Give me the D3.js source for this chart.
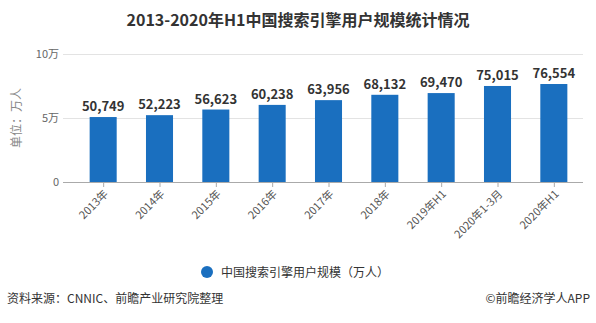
<!DOCTYPE html>
<html>
<head>
<meta charset="utf-8">
<script src="https://cdn.jsdelivr.net/npm/d3@7/dist/d3.min.js"></script>
<style>
  html, body { margin: 0; padding: 0; background: #fff; }
  svg { display: block; font-family: "Noto Sans CJK SC", "Noto Sans", sans-serif; }
</style>
</head>
<body>
<svg id="chart" width="596" height="323"></svg>
<script>
// Search engine users in China, unit: 10k people
const categories = ["2013年", "2014年", "2015年", "2016年", "2017年", "2018年", "2019年H1", "2020年1-3月", "2020年H1"];
const users = [50749, 52223, 56623, 60238, 63956, 68132, 69470, 75015, 76554];
const yTicks = [0, 50000, 100000];
const yTickLabels = ["0", "5万", "10万"];

const svg = d3.select("#chart");
const W = 596, H = 323;
const barColor = "#1a6fbf";

// Title
svg.append("text")
  .attr("x", W / 2).attr("y", 26)
  .attr("text-anchor", "middle")
  .attr("font-size", 16).attr("font-weight", "bold")
  .attr("fill", "#333")
  .text("2013-2020年H1中国搜索引擎用户规模统计情况");

const gridLeft = 63, gridRight = 583;
const x = d3.scaleBand().domain(categories).range([75, 582]).paddingInner(0.52).paddingOuter(0.26);
const y = d3.scaleLinear().domain([0, 100000]).range([182, 54]);

// Horizontal grid lines
svg.append("g").selectAll("line").data(yTicks.filter(d => d > 0)).join("line")
  .attr("x1", gridLeft).attr("x2", gridRight)
  .attr("y1", d => y(d) + 0.5).attr("y2", d => y(d) + 0.5)
  .attr("stroke", "#e3e3e3").attr("stroke-width", 1);

// Y axis labels
svg.append("g").selectAll("text").data(yTicks).join("text")
  .attr("x", 59).attr("y", d => y(d) + 4)
  .attr("text-anchor", "end")
  .attr("font-size", 11).attr("fill", "#666")
  .text((d, i) => yTickLabels[i]);

// Y axis title
svg.append("text")
  .attr("transform", "translate(21,118) rotate(-90)")
  .attr("text-anchor", "middle")
  .attr("font-size", 12).attr("fill", "#888")
  .text("单位：万人");

// Bars
svg.append("g").selectAll("rect").data(users).join("rect")
  .attr("x", (d, i) => x(categories[i]))
  .attr("y", d => y(d))
  .attr("width", x.bandwidth())
  .attr("height", d => y(0) - y(d))
  .attr("fill", barColor);

// Value labels
svg.append("g").selectAll("text").data(users).join("text")
  .attr("x", (d, i) => x(categories[i]) + x.bandwidth() / 2)
  .attr("y", d => y(d) - 6)
  .attr("text-anchor", "middle")
  .attr("font-size", 13).attr("font-weight", "bold")
  .attr("fill", "#333")
  .text(d => d3.format(",")(d));

// X axis
const xAxis = svg.append("g").attr("transform", `translate(0,${y(0)})`);
xAxis.append("line")
  .attr("x1", gridLeft).attr("x2", gridRight)
  .attr("y1", 0.5).attr("y2", 0.5)
  .attr("stroke", "#aaa");
xAxis.selectAll(".tick").data(categories).join("line")
  .attr("x1", d => x(d) + x.bandwidth() / 2 + 0.5)
  .attr("x2", d => x(d) + x.bandwidth() / 2 + 0.5)
  .attr("y1", 0.5).attr("y2", 5)
  .attr("stroke", "#aaa");
xAxis.selectAll("text").data(categories).join("text")
  .attr("transform", d => `translate(${x(d) + x.bandwidth() / 2 + 3},${10}) rotate(-45)`)
  .attr("text-anchor", "end")
  .attr("dy", "0.35em")
  .attr("font-size", 11).attr("fill", "#555")
  .text(d => d);

// Legend
svg.append("circle").attr("cx", 207).attr("cy", 272).attr("r", 6).attr("fill", barColor);
svg.append("text")
  .attr("x", 221).attr("y", 276.5)
  .attr("font-size", 12).attr("fill", "#333")
  .text("中国搜索引擎用户规模（万人）");

// Footer
svg.append("text")
  .attr("x", 7).attr("y", 303)
  .attr("font-size", 12).attr("fill", "#333")
  .text("资料来源：CNNIC、前瞻产业研究院整理");
svg.append("text")
  .attr("x", 590).attr("y", 303)
  .attr("text-anchor", "end")
  .attr("font-size", 12).attr("fill", "#333")
  .text("©前瞻经济学人APP");
</script>
</body>
</html>
